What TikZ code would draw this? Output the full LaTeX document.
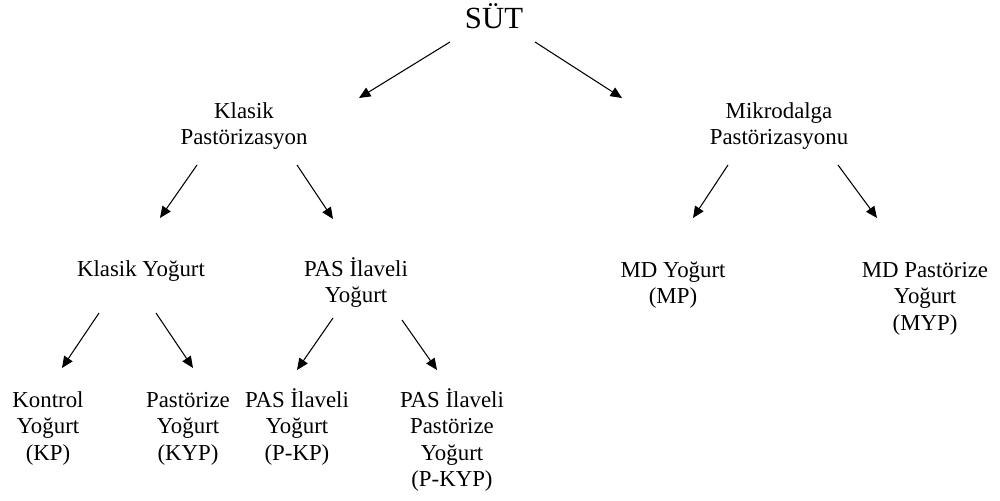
\documentclass[tikz,border=0pt]{standalone}
\usepackage{fontspec}
\setmainfont{Liberation Serif}
\usepackage{tikz}
\usetikzlibrary{arrows.meta}
\tikzset{item/.style={align=center, inner sep=0, anchor=base, font=\fontsize{13}{15}\selectfont}}
\tikzset{root/.style={inner sep=0, anchor=base, font=\fontsize{17.5}{20}\selectfont}}
\tikzset{>={Triangle[length=2.3mm, width=2mm]}}
\tikzset{every edge/.style={draw, line width=0.6pt}}

\begin{document}
\begin{tikzpicture}[scale=1]
  \useasboundingbox (0,0) rectangle (20,-10.02);

  % base = baseline of the last line
  \node[root] at (9.88, -0.58) (sut) {SÜT};

  \node[item] at (4.88, -2.89) (klasik) {Klasik\\Pastörizasyon};
  \node[item] at (15.58, -2.89) (mikro) {Mikrodalga\\Pastörizasyonu};

  \node[item] at (2.82, -5.52) (kyog) {Klasik Yoğurt};
  \node[item] at (7.12, -6.05) (pas) {PAS İlaveli\\Yoğurt};
  \node[item] at (13.46, -6.07) (mdyog) {MD Yoğurt\\(MP)};
  \node[item] at (18.5, -6.60) (mdpas) {MD Pastörize\\Yoğurt\\(MYP)};

  \node[item] at (0.96, -9.20) (kontrol) {Kontrol\\Yoğurt\\(KP)};
  \node[item] at (3.76, -9.20) (pastkyp) {Pastörize\\Yoğurt\\(KYP)};
  \node[item] at (5.94, -9.20) (pkp) {PAS İlaveli\\Yoğurt\\(P-KP)};
  \node[item] at (9.04, -9.73) (pkyp) {PAS İlaveli\\Pastörize\\Yoğurt\\(P-KYP)};

    \draw ([shift={(-0.88,-0.26)}]sut.base) edge[->] ([shift={(2.30,0.93)}]klasik.base);
    \draw ([shift={(0.82,-0.26)}]sut.base) edge[->] ([shift={(-3.14,0.93)}]mikro.base);

    \draw ([shift={(-0.94,-0.41)}]klasik.base) edge[->] ([shift={(0.38,1.16)}]kyog.base);
    \draw ([shift={(1.06,-0.41)}]klasik.base) edge[->] ([shift={(-0.46,1.67)}]pas.base);

    \draw ([shift={(-1.02,-0.41)}]mikro.base) edge[->] ([shift={(0.40,1.71)}]mdyog.base);
    \draw ([shift={(1.18,-0.41)}]mikro.base) edge[->] ([shift={(-0.96,2.24)}]mdpas.base);

    \draw ([shift={(-0.84,-0.74)}]kyog.base) edge[->] ([shift={(0.28,1.84)}]kontrol.base);
    \draw ([shift={(0.30,-0.74)}]kyog.base) edge[->] ([shift={(0.10,1.84)}]pastkyp.base);

    \draw ([shift={(-0.46,-0.31)}]pas.base) edge[->] ([shift={(0,1.80)}]pkp.base);
    \draw ([shift={(0.92,-0.35)}]pas.base) edge[->] ([shift={(-0.30,2.33)}]pkyp.base);
\end{tikzpicture}
\end{document}
